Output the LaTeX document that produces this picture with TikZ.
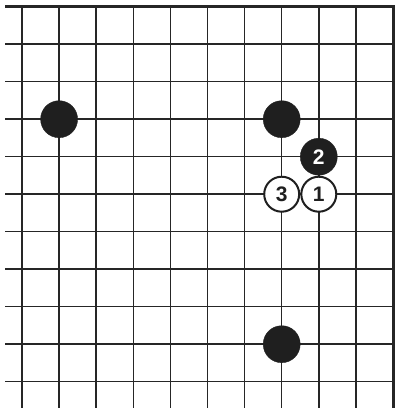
\documentclass[tikz,border=0pt]{standalone}
\usepackage{fontspec}
\setmainfont{Liberation Sans}
\tikzset{
  gridline/.style={line width=1.5pt, draw=black!85},
  edgeline/.style={line width=3pt, draw=black!85},
  blackstone/.style={circle, fill=black!88, draw=black!88, minimum size=37pt, inner sep=0pt, text=white, font=\fontsize{21}{21}\selectfont\bfseries},
  whitestone/.style={circle, fill=white, draw=black!88, line width=2pt, minimum size=35pt, inner sep=0pt, text=black!88, font=\fontsize{21}{21}\selectfont\bfseries},
}
\begin{document}
\begin{tikzpicture}[x=1pt,y=-1pt]
\useasboundingbox (0,0) rectangle (396,408);
\fill[white] (0,0) rectangle (396,408);
% vertical lines
\foreach \i in {0,...,9} {
  \draw[gridline] ({22+37.1*\i},6.7) -- ({22+37.1*\i},408);
}
% horizontal lines
\foreach \j in {1,...,10} {
  \draw[gridline] (5,{6.7+37.5*\j}) -- (393,{6.7+37.5*\j});
}
% edges (top and right)
\draw[edgeline] (5,6.7) -- (393,6.7) -- (393,408);
% stones
\node[blackstone] (b1) at ({22+37.1*1},{6.7+37.5*3}) {};
\node[blackstone] (b2) at ({22+37.1*7},{6.7+37.5*3}) {};
\node[blackstone] (b3) at ({22+37.1*7},{6.7+37.5*9}) {};
\node[blackstone] (m2) at ({22+37.1*8},{6.7+37.5*4}) {2};
\node[whitestone] (m1) at ({22+37.1*8},{6.7+37.5*5}) {1};
\node[whitestone] (m3) at ({22+37.1*7},{6.7+37.5*5}) {3};
\end{tikzpicture}
\end{document}
